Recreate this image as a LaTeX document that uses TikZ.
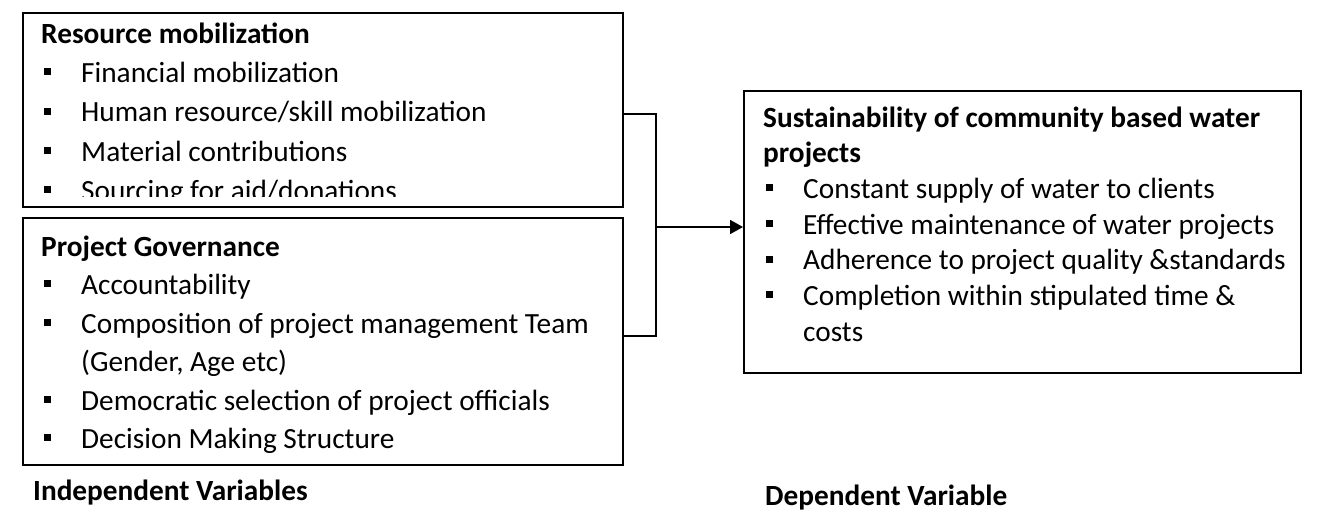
\documentclass[tikz,border=0pt]{standalone}
\usepackage{fontspec}
\setmainfont{Carlito}
\usetikzlibrary{positioning, arrows.meta, calc}

\newcommand{\sqbul}{\rule[0.25em]{0.24em}{0.24em}}
\newcommand{\itm}[1]{\makebox[40pt][l]{\hspace{3pt}\sqbul}#1}
\newcommand{\cont}[1]{\hspace*{40pt}#1}

\begin{document}
\begin{tikzpicture}[
  x=1pt, y=-1pt,
  frame/.style={draw=black, line width=1.8pt, rectangle, anchor=north west, inner sep=0pt},
  inbox/.style={anchor=north west, align=left, inner sep=0pt},
  wide/.style={font=\fontsize{29.3}{39.4}\selectfont},
  mid/.style={font=\fontsize{29.3}{38.5}\selectfont},
  tight/.style={font=\fontsize{29.3}{35.7}\selectfont},
  link/.style={draw, line width=1.8pt},
  arr/.style={link, -{Triangle[length=13pt, width=14pt]}},
  caption/.style={anchor=base west, inner sep=0pt, font=\fontsize{29.3}{35}\selectfont\bfseries},
]

\useasboundingbox (0,0) rectangle (1319,513);

%% --- independent variable boxes ---
\node[frame, minimum width=600pt, minimum height=194pt] (res) at (22,12) {};
\begin{scope}
  \clip (22,12) rectangle (622,197);
  \node[inbox, wide] (restxt) at (41,15.4) {
    \strut\textbf{Resource mobilization}\\
    \itm{Financial mobilization}\\
    \itm{Human resource/skill mobilization}\\
    \itm{Material contributions}\\
    \itm{Sourcing for aid/donations}
  };
\end{scope}

\node[frame, minimum width=600pt, minimum height=247pt] (gov) at (22,217) {};
\node[inbox, mid] (govtxt) at (41,229) {
  \strut\textbf{Project Governance}\\
  \itm{Accountability}\\
  \itm{Composition of project management Team}\\
  \cont{(Gender, Age etc)}\\
  \itm{Democratic selection of project officials}\\
  \itm{Decision Making Structure}
};

%% --- dependent variable box ---
\node[frame, minimum width=557pt, minimum height=282pt] (sus) at (743,90) {};
\node[inbox, tight] (sustxt) at (763,102) {
  \strut\textbf{Sustainability of community based water}\\
  \textbf{projects}\\
  \itm{Constant supply of water to clients}\\
  \itm{Effective maintenance of water projects}\\
  \itm{Adherence to project quality \&standards}\\
  \itm{Completion within stipulated time \&}\\
  \cont{costs}
};

%% --- connectors ---
\coordinate (hub) at (656,227);
\draw[link] ([yshift=-4pt]res.east) -| (hub) |- ([yshift=5.5pt]gov.east);
\draw[arr] (hub) -- (hub -| sus.west);

%% --- captions ---
\node[caption] (indep) at (33,500) {Independent Variables};
\node[caption] (dep) at (765,505) {Dependent Variable};

\end{tikzpicture}
\end{document}
